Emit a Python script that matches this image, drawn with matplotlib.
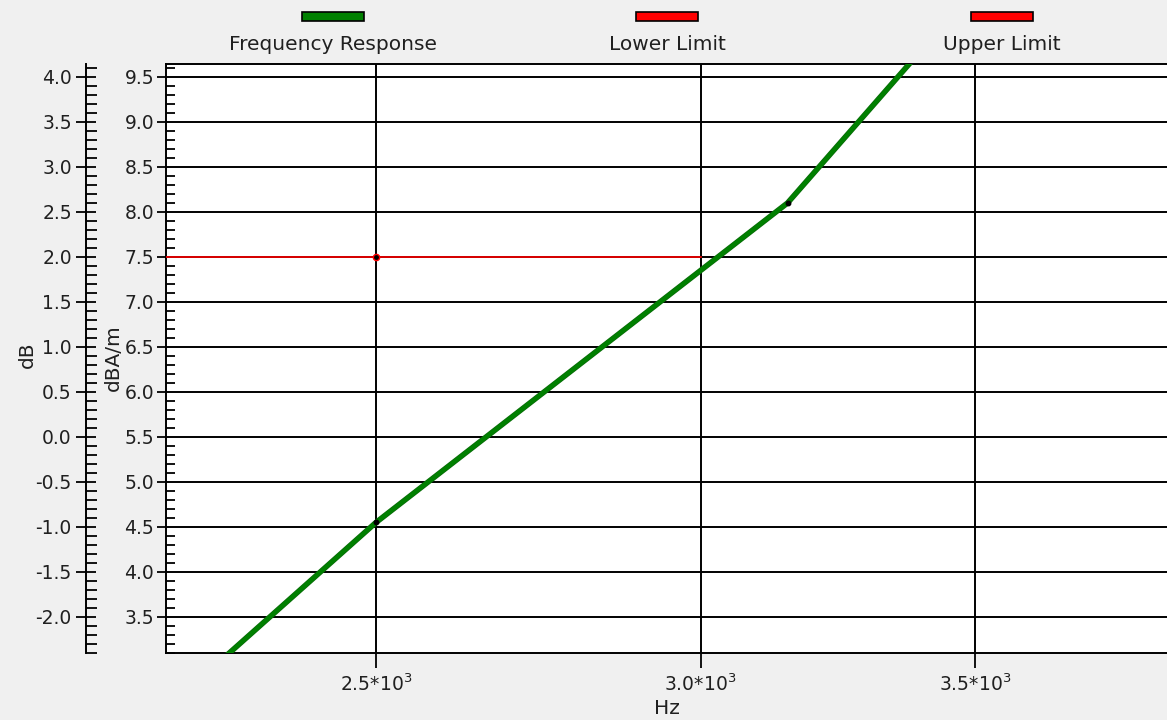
import matplotlib
matplotlib.use("Agg")
import matplotlib.pyplot as plt
from matplotlib.ticker import FixedLocator, MultipleLocator, NullLocator, FuncFormatter
import matplotlib.patheffects as pe
from matplotlib.patches import Rectangle

# ---------------------------------------------------------
# data

freq_hz = [2000, 2500, 3150, 4000]
response_dbam = [0.62, 4.55, 8.10, 13.5]

limit_freq_hz = [2000, 2500, 3000]
lower_limit_dbam = [7.5, 7.5, 7.5]

x_ticks = [2500, 3000, 3500]
x_tick_labels = ['2.5*10$^3$', '3.0*10$^3$', '3.5*10$^3$']

legend_labels = ['Frequency Response', 'Lower Limit', 'Upper Limit']
legend_colors = ['#008000', '#ff0000', '#ff0000']

db_offset = 5.5  # dB = dBA/m - 5.5
y_range = (3.1, 9.644)
x_range = (2222, 3898)

# ---------------------------------------------------------

W, H = 1167, 720
txt = '#202020'
fs = 14.5
tfs = 13.5

plt.rcParams['mathtext.default'] = 'regular'

fig = plt.figure(figsize=(W / 100, H / 100), dpi=100, facecolor='#f0f0f0')
ax = fig.add_axes([166 / W, 1 - 653 / H, 1 - 166 / W, (653 - 64) / H])
ax.set_facecolor('white')

ax.set_xscale('log')
ax.set_xlim(*x_range)
ax.set_ylim(*y_range)

ax.xaxis.set_major_locator(FixedLocator(x_ticks))
ax.xaxis.set_minor_locator(NullLocator())
ax.xaxis.set_major_formatter(FuncFormatter(
    lambda v, p: x_tick_labels[x_ticks.index(int(round(v)))] if int(round(v)) in x_ticks else ''))

ax.yaxis.set_major_locator(MultipleLocator(0.5))
ax.yaxis.set_minor_locator(MultipleLocator(0.1))
ax.yaxis.set_major_formatter(FuncFormatter(lambda v, p: f'{v:.1f}'))

ax.tick_params(axis='x', which='major', direction='out', length=10.5, width=1.3,
               labelsize=tfs, labelcolor=txt, pad=4)
ax.tick_params(axis='y', which='major', direction='out', length=6.5, width=1.3,
               labelsize=tfs, labelcolor=txt, pad=2)
ax.tick_params(axis='y', which='minor', direction='in', length=6.5, width=1.3)

ax.grid(True, which='major', color='black', linewidth=1.4)
ax.set_axisbelow(True)
for side in ['left', 'bottom', 'top']:
    ax.spines[side].set_linewidth(1.4)
ax.spines['right'].set_visible(False)

# lower limit
ax.plot(limit_freq_hz, lower_limit_dbam, color='#ff0000', linewidth=1.2,
        marker='o', markersize=4.5, markevery=[1],
        markerfacecolor='black', markeredgecolor='#ff0000', markeredgewidth=1.0, zorder=3)

# frequency response
ax.plot(freq_hz, response_dbam, color='#008000', linewidth=3.0, solid_capstyle='butt',
        path_effects=[pe.Stroke(linewidth=4.0, foreground='#0a6a0a'), pe.Normal()], zorder=4)
ax.plot(freq_hz, response_dbam, linestyle='none', marker='o', markersize=3.2,
        color='black', zorder=5)

# secondary dB axis on the left
ax2 = ax.twinx()
ax2.set_ylim(y_range[0] - db_offset, y_range[1] - db_offset)
ax2.yaxis.tick_left()
ax2.spines['left'].set_position(('outward', 57.6))
ax2.spines['left'].set_linewidth(1.4)
for side in ['right', 'top', 'bottom']:
    ax2.spines[side].set_visible(False)
ax2.yaxis.set_major_locator(MultipleLocator(0.5))
ax2.yaxis.set_minor_locator(MultipleLocator(0.1))
ax2.yaxis.set_major_formatter(FuncFormatter(lambda v, p: f'{v:.1f}'))
ax2.tick_params(axis='y', which='major', direction='inout', length=14.4, width=1.3,
                labelsize=tfs, labelcolor=txt, pad=3)
ax2.tick_params(axis='y', which='minor', direction='in', length=8, width=1.3)

# axis titles
fig.text(27 / W, 1 - 355 / H, 'dB', rotation=90, ha='center', va='center', fontsize=fs, color=txt)
fig.text(113 / W, 1 - 358 / H, 'dBA/m', rotation=90, ha='center', va='center', fontsize=fs, color=txt)
fig.text(667 / W, 1 - 708 / H, 'Hz', ha='center', va='center', fontsize=fs, color=txt)

# legend across the top
centers = [333, 667, 1002]
for cx, lab, col in zip(centers, legend_labels, legend_colors):
    fig.add_artist(Rectangle(((cx - 31) / W, 1 - 21 / H), 62 / W, 9 / H,
                             facecolor=col, edgecolor='black', linewidth=1.2,
                             transform=fig.transFigure))
    fig.text(cx / W, 1 - 45 / H, lab, ha='center', va='center', fontsize=fs, color=txt)

fig.savefig('out.png', dpi=100, facecolor=fig.get_facecolor())
